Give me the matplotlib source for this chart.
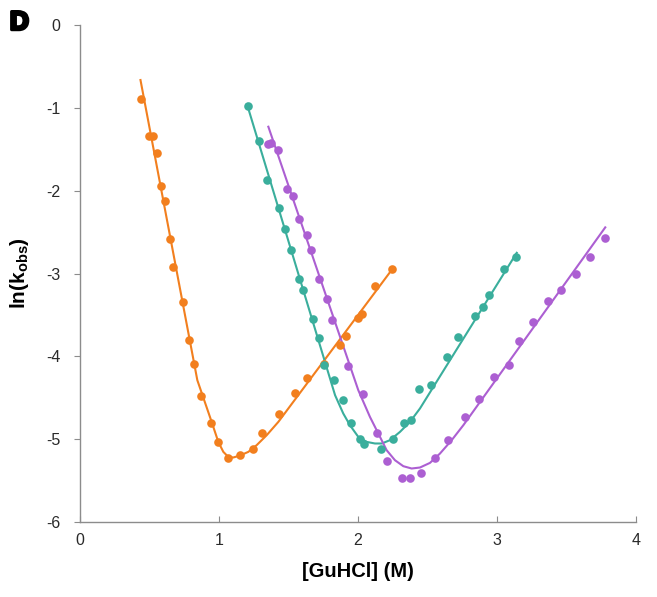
import numpy as np
import matplotlib
matplotlib.use("Agg")
import matplotlib.pyplot as plt
import matplotlib.patheffects as pe

plt.rcParams['font.family'] = ['Liberation Sans', 'DejaVu Sans']
plt.rcParams['mathtext.fontset'] = 'custom'
plt.rcParams['mathtext.bf'] = 'Liberation Sans:bold'
plt.rcParams['mathtext.rm'] = 'Liberation Sans:bold'
plt.rcParams['mathtext.it'] = 'Liberation Sans:bold'

# measured points, [GuHCl] (M) vs ln(kobs)
orange_x = [0.439, 0.499, 0.525, 0.554, 0.585, 0.614, 0.647, 0.671, 0.741, 0.786,
            0.820, 0.873, 0.942, 0.991, 1.063, 1.153, 1.245, 1.309, 1.430, 1.549,
            1.635, 1.755, 1.871, 1.914, 1.998, 2.031, 2.122, 2.242]
orange_y = [-0.89, -1.34, -1.34, -1.54, -1.94, -2.13, -2.58, -2.92, -3.34, -3.80,
            -4.09, -4.48, -4.80, -5.04, -5.23, -5.19, -5.12, -4.93, -4.70, -4.44,
            -4.26, -4.09, -3.86, -3.76, -3.54, -3.49, -3.15, -2.95]

teal_x = [1.209, 1.286, 1.343, 1.429, 1.477, 1.516, 1.573, 1.604, 1.678, 1.722,
          1.758, 1.827, 1.890, 1.947, 2.014, 2.045, 2.168, 2.250, 2.329, 2.381,
          2.439, 2.525, 2.638, 2.722, 2.840, 2.901, 2.945, 3.053, 3.135]
teal_y = [-0.975, -1.40, -1.87, -2.21, -2.46, -2.72, -3.07, -3.20, -3.55, -3.78,
          -4.10, -4.29, -4.53, -4.81, -5.00, -5.06, -5.12, -5.00, -4.80, -4.77,
          -4.40, -4.34, -4.01, -3.77, -3.51, -3.40, -3.26, -2.95, -2.80]

purple_x = [1.355, 1.374, 1.427, 1.487, 1.535, 1.578, 1.635, 1.662, 1.722, 1.779,
            1.813, 1.930, 2.034, 2.139, 2.211, 2.314, 2.374, 2.451, 2.556, 2.645,
            2.768, 2.873, 2.976, 3.084, 3.156, 3.261, 3.369, 3.458, 3.566, 3.669, 3.779]
purple_y = [-1.44, -1.43, -1.51, -1.98, -2.07, -2.34, -2.54, -2.72, -3.07, -3.31,
            -3.56, -4.12, -4.46, -4.93, -5.26, -5.47, -5.47, -5.41, -5.23, -5.01,
            -4.73, -4.51, -4.25, -4.11, -3.82, -3.59, -3.33, -3.20, -3.00, -2.80, -2.57]

# fitted chevron curves
orange_fit_x = [0.435, 0.844, 0.947, 0.995, 1.031, 1.067, 1.103, 1.151, 1.211, 1.271, 1.343, 1.427, 2.252]
orange_fit_y = [-0.664, -4.288, -4.791, -5.033, -5.153, -5.214, -5.221, -5.197, -5.153, -5.072, -4.952, -4.791, -2.935]

teal_fit_x = [1.201, 1.835, 1.894, 1.942, 2.002, 2.063, 2.122, 2.171, 2.230, 2.302, 2.374, 2.446, 3.142]
teal_fit_y = [-0.954, -4.469, -4.690, -4.831, -4.972, -5.033, -5.052, -5.052, -5.012, -4.912, -4.791, -4.629, -2.750]

purple_fit_x = [1.355, 2.002, 2.086, 2.146, 2.206, 2.266, 2.326, 2.386, 2.446, 2.518, 2.590, 2.674, 2.758, 3.779]
purple_fit_y = [-1.228, -4.408, -4.731, -4.931, -5.133, -5.254, -5.326, -5.354, -5.342, -5.286, -5.173, -5.012, -4.831, -2.443]

c_orange = "#F27F1E"
c_teal = "#3AAE9C"
c_purple = "#AC5FD2"

fig = plt.figure(figsize=(6.57, 5.97), dpi=100)
ax = fig.add_axes([0.1218, 0.1256, 0.8462, 0.8325])

for fx, fy, px, py, c in [(orange_fit_x, orange_fit_y, orange_x, orange_y, c_orange),
                          (teal_fit_x, teal_fit_y, teal_x, teal_y, c_teal),
                          (purple_fit_x, purple_fit_y, purple_x, purple_y, c_purple)]:
    ax.plot(fx, fy, color=c, lw=1.5, solid_joinstyle='round', zorder=2)
    ax.plot(px, py, 'o', color=c, ms=6.2, mec='none', zorder=3)

ax.set_xlim(0, 4)
ax.set_ylim(-6, 0)
ax.set_xticks([0, 1, 2, 3, 4])
ax.set_yticks([0, -1, -2, -3, -4, -5, -6])
ax.set_yticklabels(["0", "-1", "-2", "-3", "-4", "-5", "-6"])

for s in ["top", "right"]:
    ax.spines[s].set_visible(False)
for s in ["left", "bottom"]:
    ax.spines[s].set_color("#8c8c8c")
    ax.spines[s].set_linewidth(1.0)

ax.tick_params(axis='x', direction='in', length=4, color="#8c8c8c", labelsize=11.5, labelcolor="#2a2a2a", pad=8)
ax.tick_params(axis='y', direction='out', length=4, color="#8c8c8c", labelsize=11.5, labelcolor="#2a2a2a", pad=10)

ax.set_xlabel("[GuHCl] (M)", fontsize=14.5, fontweight='bold', labelpad=10)
ax.set_ylabel(r"ln(k$_\mathbf{obs}$)", fontsize=15, fontweight='bold', labelpad=11)

fig.text(0.015, 0.962, "D", fontsize=19, fontweight='bold', va='center', ha='left',
         path_effects=[pe.withStroke(linewidth=2.2, foreground='black')])

plt.savefig("out.png", dpi=100)
